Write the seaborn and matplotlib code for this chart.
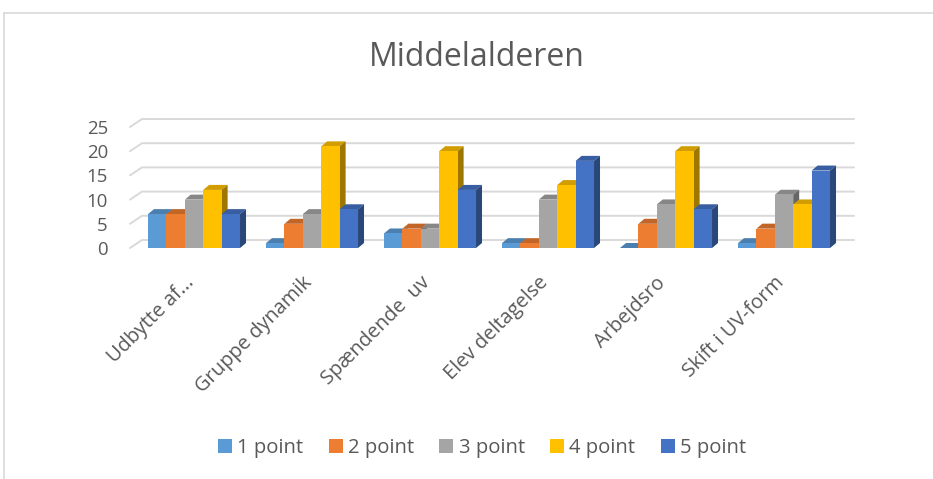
"""Clustered 3D-style bar chart: Middelalderen evaluation (1-5 point)."""

import matplotlib
matplotlib.use("Agg")
import matplotlib.pyplot as plt
import matplotlib.colors as mcolors
from matplotlib.lines import Line2D
from matplotlib.patches import Patch, Polygon
from matplotlib.transforms import ScaledTranslation
import pandas as pd
import seaborn as sns

categories = [
    "Udbytte af...",
    "Gruppe dynamik",
    "Spændende  uv",
    "Elev deltagelse",
    "Arbejdsro",
    "Skift i UV-form",
]
series = ["1 point", "2 point", "3 point", "4 point", "5 point"]
point_1 = [7, 1, 3, 1, 0, 1]
point_2 = [7, 5, 4, 1, 5, 4]
point_3 = [10, 7, 4, 10, 9, 11]
point_4 = [12, 21, 20, 13, 20, 9]
point_5 = [7, 8, 12, 18, 8, 16]
y_ticks = [0, 5, 10, 15, 20, 25]
colors = ["#5B9BD5", "#ED7D31", "#A5A5A5", "#FFC000", "#4472C4"]

TEXT = "#595959"
GRID = "#D9D9D9"
W, H = 933, 479


def shade(color, f):
    r, g, b = mcolors.to_rgb(color)
    return (r * f, g * f, b * f)


values = [point_1, point_2, point_3, point_4, point_5]
df = pd.DataFrame(
    [(cat, s, v[i]) for s, v in zip(series, values) for i, cat in enumerate(categories)],
    columns=["kategori", "point", "antal"],
)

sns.set_theme(style="white")
plt.rcParams["font.family"] = ["Open Sans", "DejaVu Sans"]

fig = plt.figure(figsize=(W / 100, H / 100), dpi=100)
ax = fig.add_axes([135 / W, 231 / H, 708 / W, 121 / H])

sns.barplot(
    data=df, x="kategori", y="antal", hue="point", palette=colors,
    width=0.78, saturation=1, ax=ax, legend=False, errorbar=None,
)
ax.set_xlim(-0.5, len(categories) - 0.5)
ax.set_ylim(0, 25)
for s in ax.spines.values():
    s.set_visible(False)
ax.set_xlabel("")
ax.set_ylabel("")

# pixel -> data scale factors
x0d, y0d = ax.transData.transform((0, 0))
x1d, y1d = ax.transData.transform((1, 1))
sx, sy = x1d - x0d, y1d - y0d

# back-wall gridlines with a slanted left end
gdx, gdy = 12 / sx, 8 / sy
left = -0.5 - 5 / sx
right = len(categories) - 0.5 + 11 / sx
for v in y_ticks:
    ax.add_line(Line2D([left, left + gdx, right], [v, v + gdy, v + gdy],
                       color=GRID, lw=1.4, clip_on=False, zorder=0.5))

# fake depth: top and side faces for every bar
ddx, ddy = 6 / sx, 5 / sy
bars = sorted(ax.patches, key=lambda p: p.get_x())
for k, bar in enumerate(bars):
    x, w, h = bar.get_x(), bar.get_width(), bar.get_height()
    c = bar.get_facecolor()
    bar.set_zorder(3 + 2 * k)
    bar.set_edgecolor("none")
    top = [(x, h), (x + w, h), (x + w + ddx, h + ddy), (x + ddx, h + ddy)]
    side = [(x + w, 0), (x + w, h), (x + w + ddx, h + ddy), (x + w + ddx, ddy)]
    ax.add_patch(Polygon(top, closed=True, facecolor=shade(c, 0.82),
                         edgecolor="none", clip_on=False, zorder=2 + 2 * k))
    ax.add_patch(Polygon(side, closed=True, facecolor=shade(c, 0.62),
                         edgecolor="none", clip_on=False, zorder=2 + 2 * k))

ax.set_yticks(y_ticks)
ax.tick_params(axis="y", length=0, pad=19.5, labelsize=13.4, labelcolor=TEXT)
ax.set_xticks(range(len(categories)))
ax.set_xticklabels(categories, rotation=45, ha="right", va="center",
                   rotation_mode="anchor")
ax.tick_params(axis="x", length=0, pad=23, labelsize=14.4, labelcolor=TEXT)
shift = ScaledTranslation(-3 / 100, 0, fig.dpi_scale_trans)
for lab in ax.get_xticklabels():
    lab.set_transform(lab.get_transform() + shift)

fig.text(477 / W, 1 - 57 / H, "Middelalderen", ha="center", va="center",
         fontsize=23, color=TEXT)

handles = [Patch(facecolor=c, edgecolor="none") for c in colors]
fig.legend(handles, series, loc="center", bbox_to_anchor=(482 / W, 1 - 448 / H),
           ncol=5, frameon=False, fontsize=14.6, labelcolor=TEXT,
           handlelength=0.7, handleheight=0.7, handletextpad=0.26,
           columnspacing=1.24)

# chart frame (runs off the right and bottom edges)
fig.add_artist(Line2D([4 / W, 1], [1 - 13 / H, 1 - 13 / H], color=GRID, lw=1.2,
                      transform=fig.transFigure))
fig.add_artist(Line2D([4 / W, 4 / W], [0, 1 - 13 / H], color=GRID, lw=1.2,
                      transform=fig.transFigure))

fig.savefig("out.png", dpi=100)
plt.close(fig)
